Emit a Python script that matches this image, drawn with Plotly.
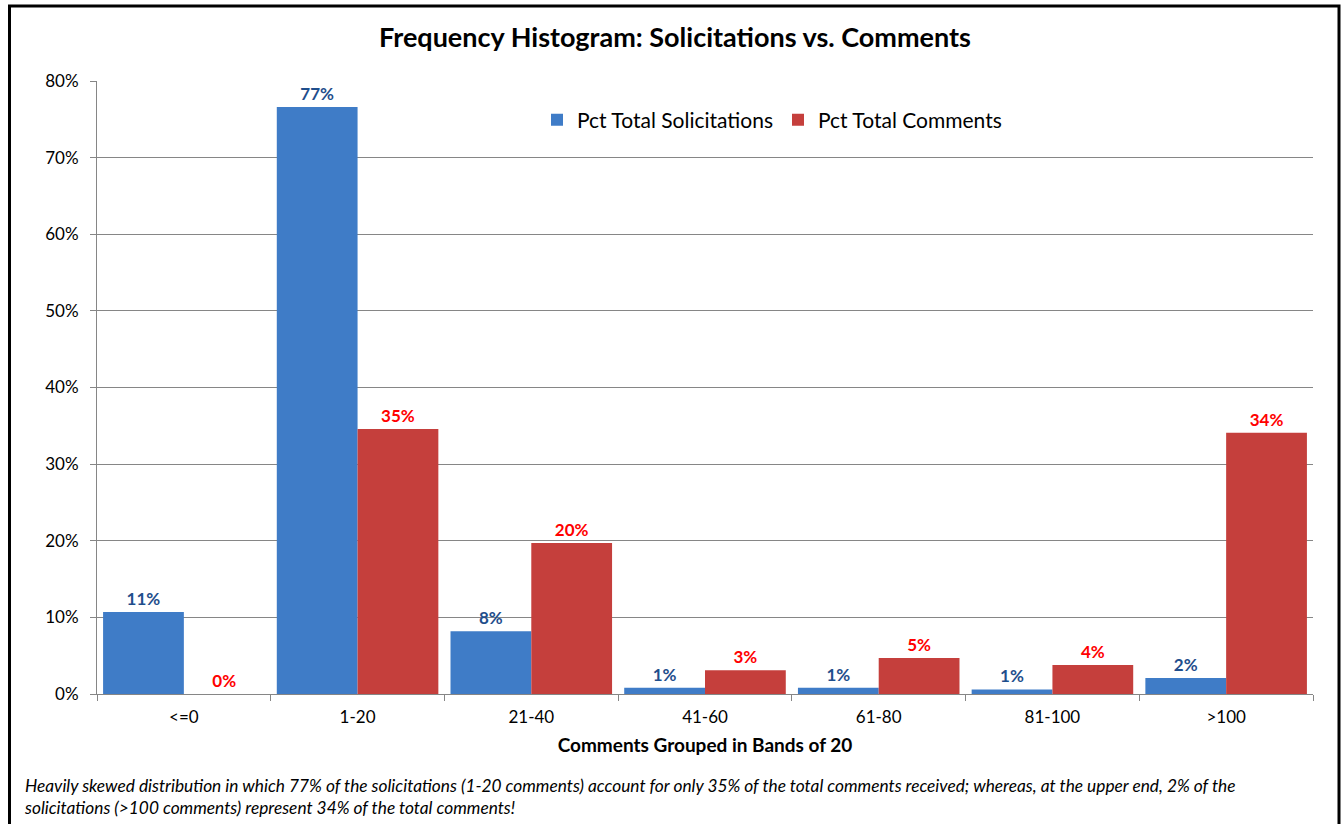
import plotly.graph_objects as go

categories = ["<=0", "1-20", "21-40", "41-60", "61-80", "81-100", ">100"]
pct_solicitations = [0.107, 0.766, 0.082, 0.008, 0.008, 0.006, 0.021]
pct_comments = [0.0, 0.346, 0.197, 0.031, 0.047, 0.038, 0.341]
y_ticks = [0, 0.1, 0.2, 0.3, 0.4, 0.5, 0.6, 0.7, 0.8]

title_text = "Frequency Histogram: Solicitations vs. Comments"
x_title = "Comments Grouped in Bands of 20"
footnote = ("Heavily skewed distribution in which 77% of the solicitations (1-20 comments) account for only 35% of the total comments received; whereas, at the upper end, 2% of the<br>"
            "solicitations (>100 comments) represent 34% of the total comments!")

W, H = 1343, 824
L, R, T, B = 97, 30, 81, 130
pw, ph = W - L - R, H - T - B

def px_x(p):
    return (p - L) / pw

def px_y(p):
    return (H - B - p) / ph

FONT = "Lato"

fig = go.Figure()
fig.add_trace(go.Bar(
    x=categories, y=pct_solicitations, name="Pct Total Solicitations",
    marker=dict(color="#3F7CC7", line=dict(width=0)),
    text=[f"<b>{round(v*100):.0f}%</b>" for v in pct_solicitations],
    textposition="outside", textfont=dict(color="#1F4E8C", size=17, family=FONT),
    cliponaxis=False,
))
fig.add_trace(go.Bar(
    x=categories, y=pct_comments, name="Pct Total Comments",
    marker=dict(color="#C53F3C", line=dict(width=0)),
    text=[f"<b>{round(v*100):.0f}%</b>" for v in pct_comments],
    textposition="outside", textfont=dict(color="#FF0000", size=17, family=FONT),
    cliponaxis=False,
))

fig.update_layout(
    width=W, height=H,
    margin=dict(l=L, r=R, t=T, b=B),
    paper_bgcolor="white", plot_bgcolor="white",
    barmode="group", bargap=0.07, bargroupgap=0,
    font=dict(family=FONT, color="black", size=17),
    title=dict(text=f"<b>{title_text}</b>", x=675 / W, xref="container", xanchor="center",
               y=1 - 38 / H, yanchor="middle", font=dict(size=27, family=FONT, color="black")),
    legend=dict(orientation="h", x=px_x(772), xanchor="center", y=px_y(120), yanchor="middle",
                font=dict(size=21, family=FONT), bgcolor="rgba(0,0,0,0)", itemwidth=30,
                traceorder="normal"),
    xaxis=dict(
        type="category", showline=True, linecolor="#868686", linewidth=1,
        ticks="outside", tickson="boundaries", ticklen=6, tickcolor="#868686",
        tickfont=dict(size=17, family=FONT), ticklabelstandoff=8,
        title=dict(text=f"<b>{x_title}</b>", font=dict(size=19, family=FONT), standoff=12),
    ),
    yaxis=dict(
        range=[0, 0.8], tickvals=y_ticks, tickformat=".0%",
        showgrid=True, gridcolor="#868686", gridwidth=1,
        showline=True, linecolor="#868686", linewidth=1,
        ticks="outside", ticklen=6, tickcolor="#868686",
        tickfont=dict(size=17, family=FONT), zeroline=False, ticklabelstandoff=8,
    ),
    shapes=[dict(type="rect", xref="paper", yref="paper",
                 x0=px_x(9.5), x1=px_x(1339), y0=px_y(840), y1=px_y(6),
                 line=dict(color="black", width=3), fillcolor="rgba(0,0,0,0)", layer="above")],
    annotations=[dict(text=f"<i>{footnote}</i>", xref="paper", yref="paper",
                      x=px_x(22), y=px_y(773), xanchor="left", yanchor="top", align="left",
                      showarrow=False, font=dict(size=17.3, family=FONT, color="black"))],
)

fig.write_html("out.html")
